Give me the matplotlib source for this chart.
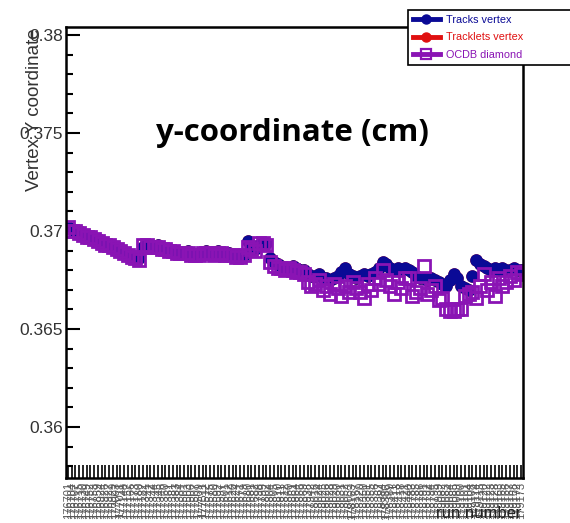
import numpy as np
import matplotlib
matplotlib.use("Agg")
import matplotlib.pyplot as plt
from matplotlib.lines import Line2D
from matplotlib.ticker import MultipleLocator, FormatStrFormatter

# run numbers (x categories)
runs = """176701 176704 176707 176715 176730 176749 176752 176753 176859 176924
176926 176927 176929 177003 177011 177148 177157 177166 177173 177180
177182 177341 177342 177344 177345 177346 177360 177361 177381 177383
177384 177501 177503 177506 177507 177509 177511 177512 177575 177580
177592 177597 177601 177612 177620 177624 177671 177679 177680 177681
177682 177798 177799 177802 177804 177805 177810 177811 177812 177860
177861 177864 177866 177869 177938 177942 178018 178024 178025 178026
178028 178029 178030 178031 178052 178053 178163 178167 178220 178350
178351 178355 178356 178367 178384 178386 178389 178411 178413 178418
178421 178440 178783 178785 178786 178791 178792 178794 178795 178939
179082 179083 179084 179085 179089 179100 179101 179104 179108 179114
179115 179120 179122 179123 179128 179163 179165 179166 179167 179168
179172 179173""".split()

tracks_y = [
    0.3702, 0.3701, 0.3700, 0.3700, 0.3698, 0.3698, 0.3697, 0.3696, 0.3696, 0.3694,
    0.3694, 0.3693, 0.3692, 0.3691, 0.3690, 0.3689, 0.3688, 0.3687, 0.3686, 0.3686,
    0.3692, 0.3693, 0.3693, 0.3692, 0.3693, 0.3692, 0.3691, 0.3691, 0.3690, 0.3690,
    0.3689, 0.3689, 0.3690, 0.3688, 0.3688, 0.3688, 0.3689, 0.3690, 0.3689, 0.3689,
    0.3690, 0.3689, 0.3688, 0.3689, 0.3688, 0.3687, 0.3688, 0.3688, 0.3695, 0.3692,
    0.3691, 0.3693, 0.3694, 0.3694, 0.3686, 0.3684, 0.3683, 0.3682, 0.3681, 0.3681,
    0.3682, 0.3681, 0.3680, 0.3680, 0.3678, 0.3677, 0.3677, 0.3678, 0.3676, 0.3676,
    0.3675, 0.3676, 0.3677, 0.3679, 0.3681, 0.3678, 0.3677, 0.3676, 0.3677, 0.3678,
    0.3677, 0.3678, 0.3679, 0.3681, 0.3684, 0.3683, 0.3681, 0.3680, 0.3681, 0.3680,
    0.3681, 0.3680, 0.3679, 0.3677, 0.3676, 0.3676, 0.3675, 0.3676, 0.3675, 0.3674,
    0.3673, 0.3672, 0.3675, 0.3678, 0.3676, 0.3672, 0.3671, 0.3670, 0.3677, 0.3685,
    0.3683, 0.3682, 0.3681, 0.3680, 0.3681, 0.3680, 0.3681, 0.3680, 0.3680, 0.3681,
    0.3680, 0.3680,
]

# tracklets vertex sits under the tracks vertex markers
tracklets_y = list(tracks_y)

ocdb_y = [
    0.3702, 0.3700, 0.3700, 0.3699, 0.3698, 0.3697, 0.3697, 0.3696, 0.3695, 0.3694,
    0.3693, 0.3693, 0.3692, 0.3691, 0.3690, 0.3689, 0.3688, 0.3687, 0.3686, 0.3685,
    0.3693, 0.3693, 0.3692, 0.3692, 0.3692, 0.3691, 0.3691, 0.3690, 0.3690, 0.3689,
    0.3689, 0.3689, 0.3689, 0.3688, 0.3688, 0.3688, 0.3689, 0.3689, 0.3689, 0.3688,
    0.3689, 0.3689, 0.3688, 0.3688, 0.3688, 0.3687, 0.3687, 0.3688, 0.3692, 0.3691,
    0.3690, 0.3694, 0.3694, 0.3693, 0.3684, 0.3682, 0.3681, 0.3681, 0.3680, 0.3681,
    0.3680, 0.3679, 0.3679, 0.3678, 0.3674, 0.3672, 0.3673, 0.3675, 0.3670, 0.3672,
    0.3668, 0.3673, 0.3671, 0.3667, 0.3672, 0.3669, 0.3674, 0.3671, 0.3669, 0.3666,
    0.3673, 0.3670, 0.3676, 0.3673, 0.3680, 0.3675, 0.3672, 0.3668, 0.3674, 0.3671,
    0.3676, 0.3676, 0.3667, 0.3669, 0.3671, 0.3682, 0.3668, 0.3670, 0.3672, 0.3665,
    0.3666, 0.3660, 0.3659, 0.3659, 0.3660, 0.3660, 0.3667, 0.3668, 0.3669, 0.3666,
    0.3672, 0.3678, 0.3670, 0.3674, 0.3667, 0.3676, 0.3672, 0.3674, 0.3677, 0.3675,
    0.3679, 0.3678,
]

BLUE = "#0a0a96"
RED = "#e01010"
PURPLE = "#8a14b4"

plt.rcParams["font.family"] = ["Liberation Sans", "DejaVu Sans"]

fig = plt.figure(figsize=(5.70, 5.23), dpi=100)
ax = fig.add_axes([66 / 570, 1 - 478 / 523, 457 / 570, 451 / 523])

x = np.arange(len(runs)) + 0.5
ax.plot(x, tracklets_y, ls="none", marker="o", ms=8, color=RED, mec=RED)
ax.plot(x, tracks_y, ls="none", marker="o", ms=8, color=BLUE, mec=BLUE)
ax.plot(x, ocdb_y, ls="none", marker="s", ms=8.8, mfc="none", mec=PURPLE, mew=2.0)

ax.set_xlim(0, len(runs))
ax.set_ylim(0.35740, 0.38041)

ax.yaxis.set_major_locator(MultipleLocator(0.005))
ax.yaxis.set_minor_locator(MultipleLocator(0.001))
ax.yaxis.set_major_formatter(FormatStrFormatter("%g"))
ax.tick_params(axis="y", which="major", direction="in", length=10, width=1.5,
               labelsize=12.5, labelcolor="#333333", pad=2)
ax.tick_params(axis="y", which="minor", direction="in", length=5, width=1.5)

ax.set_xticks(x)
ax.set_xticklabels(runs, rotation=90, fontsize=8, color="#555555")
ax.tick_params(axis="x", direction="in", length=9.5, width=1.2, pad=3)

for s in ax.spines.values():
    s.set_linewidth(1.8)

fig.text(35 / 570, 1 - 28 / 523, "Vertex Y coordinate", rotation=90,
         ha="center", va="top", fontsize=13.5, color="#333333")
fig.text(522 / 570, 1 - 513 / 523, "run number", ha="right", va="center",
         fontsize=12, color="#222222")

fig.text(292 / 570, 1 - 133 / 523, "y-coordinate (cm)", ha="center", va="center",
         fontsize=22.5, fontweight="bold", family="Open Sans", color="black")

handles = [
    Line2D([], [], color=BLUE, lw=3.5, marker="o", ms=6.5),
    Line2D([], [], color=RED, lw=3.5, marker="o", ms=6.5),
    Line2D([], [], color=PURPLE, lw=3.5, marker="s", ms=6.5, mfc="none", mew=1.6),
]
leg = fig.legend(handles, ["Tracks vertex", "Tracklets vertex", "OCDB diamond"],
                 loc="upper left", bbox_to_anchor=(408 / 570, 1 - 67 / 523, 0.35, 57 / 523),
                 mode="expand", fontsize=7.8, handlelength=2.5, handletextpad=0.6,
                 labelspacing=0.72, borderpad=0.42, fancybox=False, framealpha=1,
                 edgecolor="black", labelcolor=[BLUE, RED, PURPLE], borderaxespad=0)
leg.get_frame().set_linewidth(1.2)

fig.savefig("out.png", dpi=100)
